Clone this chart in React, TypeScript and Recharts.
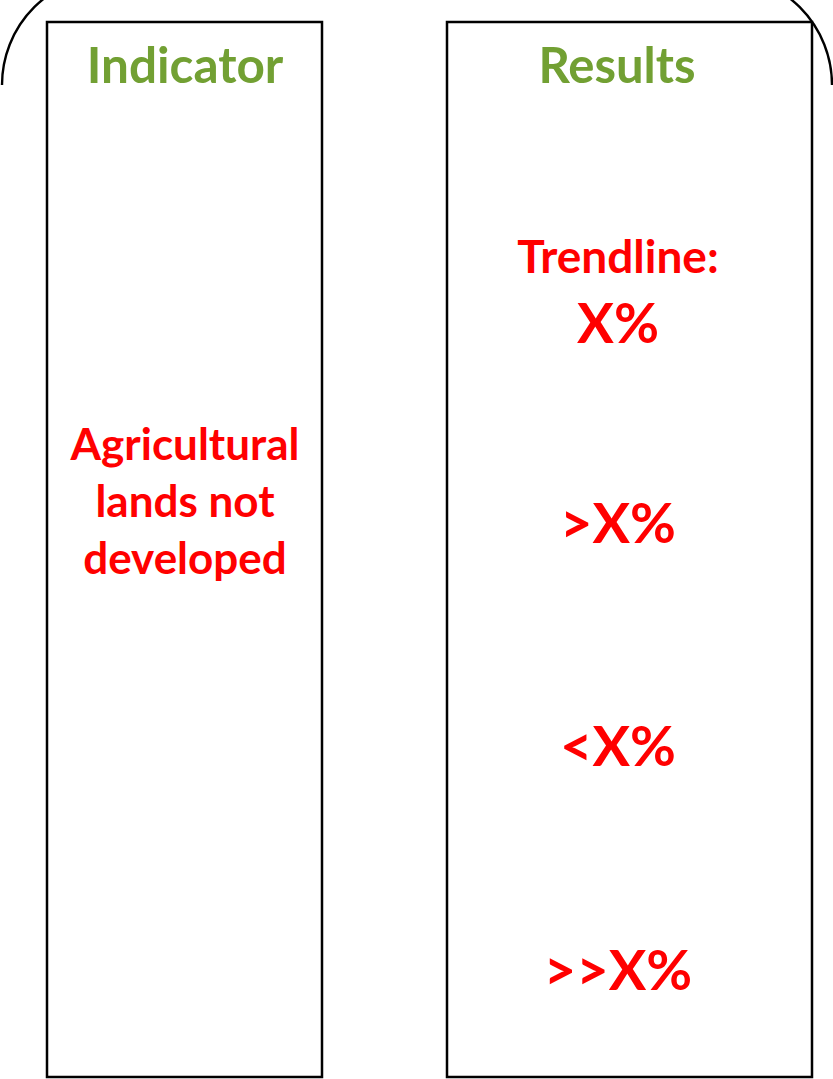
import React from "react";
import { ComposedChart, XAxis, YAxis, Scatter, ReferenceArea } from "recharts";

const W = 833;
const H = 1079;

// Diagram text items
const textLabels = ["Indicator", "Results", "Agricultural", "lands not", "developed", "Trendline:", "X%", ">X%", "<X%", ">>X%"];
const textX = [185, 617, 185, 185, 185, 618, 618, 618, 618, 618];
const textY = [64, 64, 443, 500, 557, 255, 322, 521, 744, 968];
const textSize = [49.5, 49, 44, 44, 44, 46, 55, 56, 56, 56];
const textColor = ["#72A033", "#72A033", "#FF0000", "#FF0000", "#FF0000", "#FF0000", "#FF0000", "#FF0000", "#FF0000", "#FF0000"];

// Column boxes
const boxX1 = [47, 447];
const boxX2 = [322, 812];
const boxTop = 22;
const boxBottom = 1077;

// Outer bracket (top of a large rounded frame)
const bracketX = [2, 832];
const bracketY = [-25, 85];

const textData = textLabels.map((label, i) => ({
  x: textX[i],
  y: textY[i],
  label,
  size: textSize[i],
  color: textColor[i],
}));

const TextShape = (p: any) => (
  <text
    x={p.cx}
    y={p.cy}
    textAnchor="middle"
    dominantBaseline="central"
    fontFamily="Lato, 'Open Sans', sans-serif"
    fontWeight={700}
    fontSize={p.payload.size}
    fill={p.payload.color}
  >
    {p.payload.label}
  </text>
);

const BracketShape = (p: any) => {
  const { x, y, width, height } = p;
  const r = height;
  const d = `M ${x} ${y + height} A ${r} ${r} 0 0 1 ${x + r} ${y} L ${x + width - r} ${y} A ${r} ${r} 0 0 1 ${x + width} ${y + height}`;
  return <path d={d} fill="none" stroke="#000" strokeWidth={2.4} />;
};

export default function App() {
  return (
    <div style={{ width: W, height: H, background: "#fff" }}>
      <style>{`body{margin:0;background:#fff}`}</style>
      <ComposedChart width={W} height={H} margin={{ top: 0, right: 0, bottom: 0, left: 0 }}>
        <XAxis type="number" dataKey="x" domain={[0, W]} hide allowDataOverflow />
        <YAxis type="number" dataKey="y" domain={[0, H]} reversed hide allowDataOverflow />
        <ReferenceArea
          x1={bracketX[0]}
          x2={bracketX[1]}
          y1={bracketY[0]}
          y2={bracketY[1]}
          ifOverflow="visible"
          shape={BracketShape}
        />
        {boxX1.map((x1, i) => (
          <ReferenceArea
            key={i}
            x1={x1}
            x2={boxX2[i]}
            y1={boxTop}
            y2={boxBottom}
            ifOverflow="visible"
            fill="none"
            fillOpacity={0}
            stroke="#000"
            strokeWidth={2.5}
          />
        ))}
        <Scatter data={textData} dataKey="y" shape={TextShape} isAnimationActive={false} />
      </ComposedChart>
    </div>
  );
}
